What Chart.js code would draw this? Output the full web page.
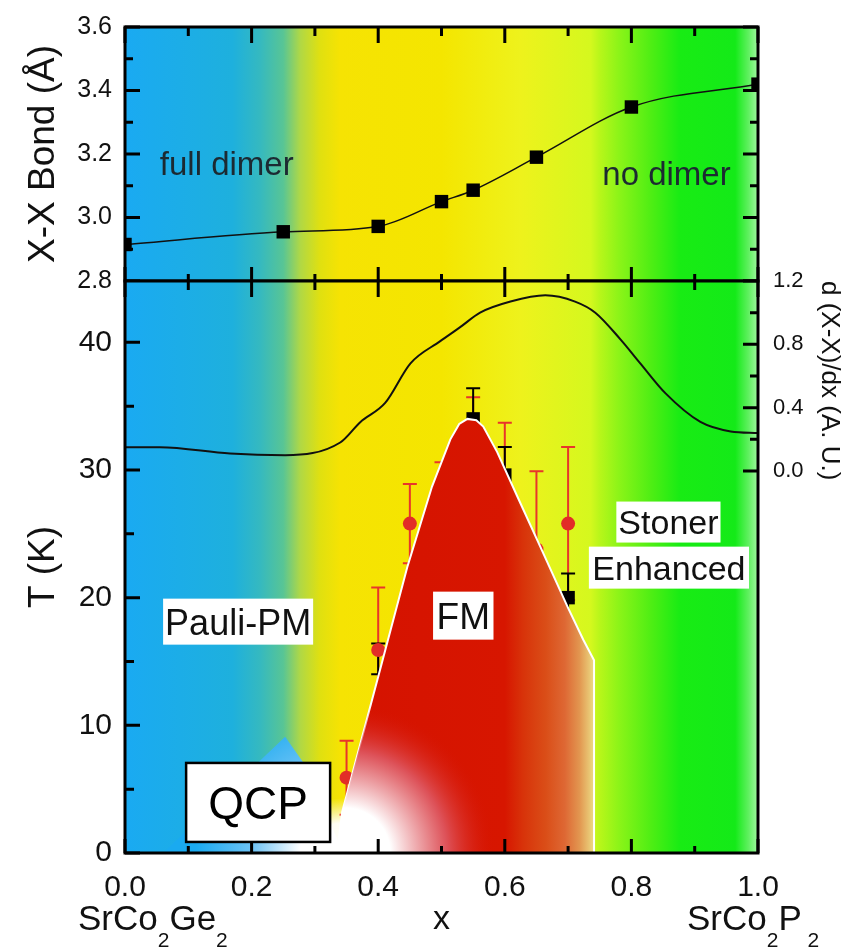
<!DOCTYPE html>
<html>
<head>
<meta charset="utf-8">
<script src="https://cdn.jsdelivr.net/npm/chart.js@4.4.1/dist/chart.umd.min.js"></script>
<style>
  body { margin: 0; background: #fff; }
  #wrap { position: relative; width: 855px; height: 948px; overflow: hidden; }
  canvas { position: absolute; left: 0; }
  #bond { top: 0; }
  #phase { top: 268px; }
</style>
</head>
<body>
<div id="wrap">
  <canvas id="bond" width="855" height="300"></canvas>
  <canvas id="phase" width="855" height="680"></canvas>
</div>
<script>
// top panel: X-X bond length vs x
const bondX = [0, 0.25, 0.4, 0.5, 0.55, 0.65, 0.8, 1.0];
const bondLen = [2.915, 2.955, 2.972, 3.05, 3.086, 3.19, 3.348, 3.42];

// d(X-X)/dx curve (right axis, bottom panel)
const derivX = [0, 0.055, 0.166, 0.253, 0.34, 0.372, 0.411, 0.451, 0.498, 0.53, 0.561, 0.609, 0.664, 0.711, 0.743, 0.783, 0.814, 0.854, 0.909, 0.957, 1.0];
const derivY = [0.15, 0.15, 0.11, 0.10, 0.18, 0.31, 0.43, 0.68, 0.82, 0.91, 1.00, 1.07, 1.11, 1.07, 1.00, 0.83, 0.68, 0.49, 0.31, 0.25, 0.24];

// Tc data, red circles
const redX = [0.35, 0.40, 0.45, 0.50, 0.55, 0.60, 0.65, 0.70];
const redT = [5.9, 15.9, 25.8, 26.6, 31.8, 28.9, 23.8, 25.8];
const redLo = [3.0, 11.0, 22.7, 22.7, 27.8, 23.8, 17.8, 19.8];
const redHi = [8.8, 20.8, 28.9, 30.6, 35.7, 33.7, 29.9, 31.8];

// Tc data, black squares
const blackX = [0.40, 0.55, 0.60, 0.70];
const blackT = [15.9, 34.0, 29.6, 20.0];
const blackLo = [14.0, 31.6, 27.9, 17.8];
const blackHi = [16.4, 36.4, 31.8, 21.9];

// FM phase boundary
const fmX = [0.335, 0.343, 0.40, 0.446, 0.485, 0.514, 0.528, 0.541, 0.555, 0.566, 0.588, 0.62, 0.656, 0.699, 0.724, 0.741, 0.741];
const fmT = [0, 3.2, 13.8, 22.4, 28.7, 32.4, 33.6, 34.0, 33.9, 33.4, 31.4, 27.9, 24.0, 19.3, 16.7, 15.1, 0];

// blue fan near the QCP
const fanX = [0.06, 0.253, 0.283, 0.345];
const fanT = [0, 9.1, 7.0, 0];
const qcpX = 0.348;

const xTicks = [0, 0.2, 0.4, 0.6, 0.8, 1.0];
const bondTicks = [2.8, 3.0, 3.2, 3.4, 3.6];
const tTicks = [0, 10, 20, 30, 40];
const dTicks = [0, 0.4, 0.8, 1.2];

const FONT = '"Liberation Sans", Arial, sans-serif';
Chart.defaults.font.family = FONT;
Chart.defaults.color = '#111';

const bgStops = [
  [0.00, '#1AAAF2'], [0.17, '#1EB0DD'], [0.213, '#35B9C0'], [0.25, '#58C595'],
  [0.277, '#B0D845'], [0.308, '#E0E010'], [0.34, '#F6E303'], [0.50, '#F4E600'],
  [0.625, '#EEF21C'], [0.735, '#D5F81E'], [0.75, '#B8F61A'], [0.78, '#8CF418'],
  [0.83, '#50EE14'], [0.877, '#18EC14'], [0.964, '#14EA18'], [0.985, '#60F060'], [1, '#A0F8A0']
];
const fmStops = [
  [0.335, '#D51200'], [0.60, '#D71600'], [0.63, '#D8340A'], [0.665, '#DA4E18'],
  [0.695, '#DE6834'], [0.718, '#E29650'], [0.741, '#ECDC84']
];

const pts = (xs, ys) => xs.map((x, i) => ({ x, y: ys[i] }));
const has = (list, v) => list.some(t => Math.abs(t - v) < 1e-6);

function paintBg(chart) {
  const { ctx, chartArea: a, scales: { x } } = chart;
  const g = ctx.createLinearGradient(x.getPixelForValue(0), 0, x.getPixelForValue(1), 0);
  bgStops.forEach(s => g.addColorStop(s[0], s[1]));
  ctx.save();
  ctx.fillStyle = g;
  ctx.fillRect(a.left, a.top, a.right - a.left, a.bottom - a.top);
  ctx.restore();
}

function marks(ctx, scale, values, len, edge, dir, horiz) {
  ctx.beginPath();
  values.forEach(v => {
    const p = scale.getPixelForValue(v);
    if (horiz) { ctx.moveTo(p, edge); ctx.lineTo(p, edge + dir * len); }
    else { ctx.moveTo(edge, p); ctx.lineTo(edge + dir * len, p); }
  });
  ctx.stroke();
}

function frame(ctx, a) {
  ctx.lineWidth = 3;
  ctx.strokeStyle = '#000';
  ctx.strokeRect(a.left, a.top, a.right - a.left, a.bottom - a.top);
}

const minorX = [0.1, 0.3, 0.5, 0.7, 0.9];

function boxLabel(ctx, text, cx, cy, size, h, pad) {
  ctx.font = size + 'px ' + FONT;
  const w = ctx.measureText(text).width + 2 * pad;
  ctx.fillStyle = '#fff';
  ctx.fillRect(cx - w / 2, cy - h / 2, w, h);
  ctx.fillStyle = '#111';
  ctx.textAlign = 'center';
  ctx.textBaseline = 'alphabetic';
  ctx.fillText(text, cx, cy + size * 0.358);
}

function formula(ctx, parts, x, y) {
  ctx.textAlign = 'left';
  ctx.textBaseline = 'alphabetic';
  ctx.fillStyle = '#111';
  parts.forEach(([t, sub]) => {
    ctx.font = (sub ? 21 : 35) + 'px ' + FONT;
    ctx.fillText(t, x, sub ? y + 17 : y);
    x += ctx.measureText(t).width;
  });
}

function errBars(ctx, xs, ys, xv, lo, hi, color) {
  ctx.strokeStyle = color;
  ctx.lineWidth = 2;
  xv.forEach((v, i) => {
    const p = xs.getPixelForValue(v);
    const y1 = ys.getPixelForValue(lo[i]), y2 = ys.getPixelForValue(hi[i]);
    ctx.beginPath();
    ctx.moveTo(p, y1); ctx.lineTo(p, y2);
    ctx.moveTo(p - 7, y1); ctx.lineTo(p + 7, y1);
    ctx.moveTo(p - 7, y2); ctx.lineTo(p + 7, y2);
    ctx.stroke();
  });
}

// place a chart so its plot area spans page rows top..bottom
function pin(chart, top, bottom) {
  for (let k = 0; k < 3; k++) {
    const a = chart.chartArea;
    const dh = (bottom - top) - (a.bottom - a.top);
    if (Math.abs(dh) < 0.5) break;
    chart.resize(855, Math.round(chart.height + dh));
  }
  chart.canvas.style.top = Math.round(top - chart.chartArea.top) + 'px';
}

const bondDecor = {
  id: 'bondDecor',
  beforeDraw: chart => paintBg(chart),
  afterDatasetsDraw(chart) {
    const { ctx, chartArea: a, scales: { x, y } } = chart;
    ctx.save();
    ctx.fillStyle = '#1C2A32';
    ctx.font = '33px ' + FONT;
    ctx.textAlign = 'left';
    ctx.textBaseline = 'alphabetic';
    ctx.fillText('full dimer', x.getPixelForValue(0.055), y.getPixelForValue(3.134));
    ctx.fillText('no dimer', x.getPixelForValue(0.754), y.getPixelForValue(3.102));
    ctx.strokeStyle = '#000';
    ctx.lineWidth = 3;
    marks(ctx, y, bondTicks, 15, a.left, 1, false);
    marks(ctx, y, [2.9, 3.1, 3.3, 3.5], 8, a.left, 1, false);
    marks(ctx, y, bondTicks, 15, a.right, -1, false);
    marks(ctx, y, [2.9, 3.1, 3.3, 3.5], 8, a.right, -1, false);
    marks(ctx, x, xTicks, 16, a.top, 1, true);
    marks(ctx, x, minorX, 9, a.top, 1, true);
    marks(ctx, x, xTicks, 14, a.bottom, -1, true);
    marks(ctx, x, minorX, 7, a.bottom, -1, true);
    frame(ctx, a);
    ctx.restore();
  }
};

const bond = new Chart(document.getElementById('bond'), {
  type: 'line',
  data: {
    datasets: [{
      data: pts(bondX, bondLen),
      borderColor: '#111',
      borderWidth: 1.5,
      cubicInterpolationMode: 'monotone',
      pointStyle: 'rect',
      pointRadius: 9.5,
      pointBackgroundColor: '#000',
      pointBorderWidth: 0
    }]
  },
  options: {
    responsive: false,
    maintainAspectRatio: false,
    animation: false,
    events: [],
    layout: { padding: { top: 27, right: 97, bottom: 19, left: 0 } },
    plugins: { legend: { display: false }, tooltip: { enabled: false } },
    scales: {
      x: { type: 'linear', min: 0, max: 1, display: false },
      y: {
        min: 2.8, max: 3.6,
        afterFit: s => { s.width = 125; },
        grid: { display: false, drawTicks: false },
        border: { display: false },
        ticks: {
          stepSize: 0.2, padding: 13, font: { size: 25 }, color: '#111',
          callback: v => has(bondTicks, v) ? v.toFixed(1) : ''
        },
        title: { display: true, text: 'X-X Bond (Å)', font: { size: 37 }, color: '#111', padding: { top: 22, bottom: 0 } }
      }
    }
  },
  plugins: [bondDecor]
});

const phaseDecor = {
  id: 'phaseDecor',
  beforeDraw(chart) {
    paintBg(chart);
    const { ctx, chartArea: a, scales: { x, y } } = chart;
    // white glow around the QCP
    ctx.save();
    ctx.beginPath();
    ctx.rect(a.left, a.top, a.right - a.left, a.bottom - a.top);
    ctx.clip();
    ctx.translate(x.getPixelForValue(qcpX), y.getPixelForValue(0));
    ctx.scale(1.3, 1);
    const rg = ctx.createRadialGradient(0, 0, 0, 0, 0, 55);
    rg.addColorStop(0, '#fff');
    rg.addColorStop(0.55, 'rgba(255,255,255,0.95)');
    rg.addColorStop(1, 'rgba(255,255,255,0)');
    ctx.fillStyle = rg;
    ctx.beginPath();
    ctx.arc(0, 0, 55, 0, Math.PI * 2);
    ctx.fill();
    ctx.restore();
  },
  beforeDatasetsDraw(chart) {
    const { ctx, chartArea: a, scales: { x, y } } = chart;
    ctx.save();
    ctx.beginPath();
    ctx.rect(a.left, a.top, a.right - a.left, a.bottom - a.top);
    ctx.clip();
    errBars(ctx, x, y, redX, redLo, redHi, '#E8352B');
    errBars(ctx, x, y, blackX, blackLo, blackHi, '#000');
    ctx.restore();
  },
  afterDatasetsDraw(chart) {
    const { ctx, chartArea: a, scales: { x, y, yR } } = chart;
    ctx.save();
    ctx.strokeStyle = '#000';
    ctx.lineWidth = 3;
    marks(ctx, y, tTicks, 15, a.left, 1, false);
    marks(ctx, y, [5, 15, 25, 35], 9, a.left, 1, false);
    marks(ctx, yR, dTicks, 15, a.right, -1, false);
    marks(ctx, yR, [0.2, 0.6, 1.0], 8, a.right, -1, false);
    marks(ctx, x, xTicks, 16, a.top, 1, true);
    marks(ctx, x, minorX, 9, a.top, 1, true);
    marks(ctx, x, xTicks, 14, a.bottom, -1, true);
    marks(ctx, x, minorX, 7, a.bottom, -1, true);
    frame(ctx, a);

    boxLabel(ctx, 'Pauli-PM', x.getPixelForValue(0.1787), y.getPixelForValue(18.12), 36, 46, 2);
    boxLabel(ctx, 'FM', x.getPixelForValue(0.5344), y.getPixelForValue(18.59), 37, 48, 3.5);
    boxLabel(ctx, 'Stoner', x.getPixelForValue(0.8585), y.getPixelForValue(25.92), 34, 41, 2);
    boxLabel(ctx, 'Enhanced', x.getPixelForValue(0.8593), y.getPixelForValue(22.35), 34, 42, 3.5);

    const qx = x.getPixelForValue(0.2103), qy = y.getPixelForValue(3.96);
    ctx.fillStyle = '#fff';
    ctx.fillRect(qx - 72, qy - 39.5, 144, 79);
    ctx.lineWidth = 2.5;
    ctx.strokeStyle = '#000';
    ctx.strokeRect(qx - 72, qy - 39.5, 144, 79);
    ctx.fillStyle = '#000';
    ctx.font = '46px ' + FONT;
    ctx.textAlign = 'center';
    ctx.textBaseline = 'alphabetic';
    ctx.fillText('QCP', qx, qy + 46 * 0.358);

    formula(ctx, [['SrCo', false], ['2', true], ['Ge', false], ['2', true]], x.getPixelForValue(0) - 47, a.bottom + 77);
    formula(ctx, [['SrCo', false], ['2', true], ['P', false], [' 2', true]], x.getPixelForValue(1) - 71, a.bottom + 77);
    ctx.restore();
  }
};

function fmFill(c) {
  const ch = c.chart;
  if (!ch.chartArea) return '#D51200';
  const x = ch.scales.x;
  const x0 = fmStops[0][0], x1 = fmStops[fmStops.length - 1][0];
  const g = ch.ctx.createLinearGradient(x.getPixelForValue(x0), 0, x.getPixelForValue(x1), 0);
  fmStops.forEach(s => g.addColorStop((s[0] - x0) / (x1 - x0), s[1]));
  return g;
}

function qcpGlow(c, inner, outer, r, s1, s2) {
  const ch = c.chart;
  if (!ch.chartArea) return outer;
  const px = ch.scales.x.getPixelForValue(qcpX), py = ch.scales.y.getPixelForValue(0);
  const g = ch.ctx.createRadialGradient(px, py, 0, px, py, r);
  g.addColorStop(0, inner[0]);
  g.addColorStop(s1, inner[0]);
  g.addColorStop(s2, inner[1]);
  g.addColorStop(1, outer);
  return g;
}

const phase = new Chart(document.getElementById('phase'), {
  type: 'line',
  data: {
    datasets: [
      {
        data: pts(fanX, fanT), order: 10, fill: 'origin', borderWidth: 0, pointRadius: 0,
        backgroundColor: c => qcpGlow(c, ['#ffffff', 'rgba(110,195,245,1)'], '#1AAAF0', 150, 0.3, 0.62)
      },
      {
        data: pts(blackX, blackT), order: 9, showLine: false,
        pointStyle: 'rect', pointRadius: [6.5, 9.5, 9.5, 9.5], pointBackgroundColor: '#000', pointBorderWidth: 0
      },
      {
        data: pts(redX, redT), order: 8, showLine: false,
        pointStyle: 'circle', pointRadius: 7, pointBackgroundColor: '#E22D27', pointBorderWidth: 0
      },
      {
        data: pts(fmX, fmT), order: 7, fill: 'origin', borderColor: '#fff', borderWidth: 2,
        pointRadius: 0, backgroundColor: fmFill
      },
      {
        data: pts(fmX, fmT), order: 6, fill: 'origin', borderWidth: 0, pointRadius: 0,
        backgroundColor: c => qcpGlow(c, ['#ffffff', 'rgba(222,88,98,0.9)'], 'rgba(214,18,0,0)', 150, 0.3, 0.68)
      },
      {
        data: pts(derivX, derivY), yAxisID: 'yR', order: 1, borderColor: '#111', borderWidth: 2,
        cubicInterpolationMode: 'monotone', pointRadius: 0
      }
    ]
  },
  options: {
    responsive: false,
    maintainAspectRatio: false,
    animation: false,
    events: [],
    layout: { padding: { top: 13, right: 0, bottom: 0, left: 0 } },
    plugins: { legend: { display: false }, tooltip: { enabled: false } },
    scales: {
      x: {
        type: 'linear', min: 0, max: 1,
        afterFit: s => { s.height = 95; },
        grid: { display: false, drawTicks: false },
        border: { display: false },
        ticks: {
          stepSize: 0.2, padding: 17, font: { size: 30 }, color: '#111', maxRotation: 0,
          callback: v => has(xTicks, v) ? v.toFixed(1) : ''
        },
        title: { display: true, text: 'x', font: { size: 34 }, color: '#111', padding: { top: 0, bottom: 8 } }
      },
      y: {
        position: 'left', min: 0, max: 44.8,
        afterFit: s => { s.width = 125; },
        grid: { display: false, drawTicks: false },
        border: { display: false },
        ticks: {
          stepSize: 10, padding: 13, font: { size: 30 }, color: '#111',
          callback: v => has(tTicks, v) ? String(v) : ''
        },
        title: { display: true, text: 'T (K)', font: { size: 37 }, color: '#111', padding: { top: 22, bottom: 0 } }
      },
      yR: {
        position: 'right', min: -2.413, max: 1.2,
        afterFit: s => { s.width = 97; },
        grid: { display: false, drawTicks: false },
        border: { display: false },
        ticks: {
          stepSize: 0.4, padding: 15, font: { size: 22 }, color: '#111', autoSkip: false,
          callback: v => has(dTicks, v) ? v.toFixed(1) : ''
        },
        title: {
          display: true, text: 'd (X-X)/dx (A. U.)', align: 'end', font: { size: 26 }, color: '#111',
          padding: { top: 10, bottom: 0 }
        }
      }
    }
  },
  plugins: [phaseDecor]
});

pin(bond, 27, 281);
pin(phase, 281, 853);
</script>
</body>
</html>
